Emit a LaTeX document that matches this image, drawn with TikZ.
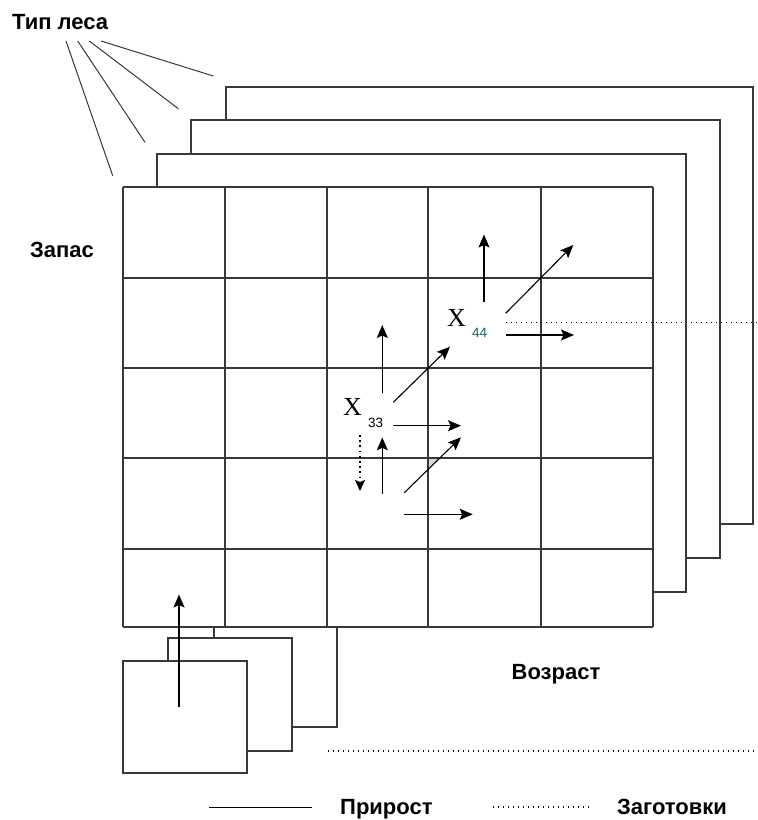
\documentclass[tikz,border=0pt]{standalone}
\usepackage{fontspec}
\setmainfont{Liberation Sans}
\newfontfamily\serifx{Liberation Serif}
\usetikzlibrary{arrows.meta}
\definecolor{framec}{gray}{0.22}
\definecolor{tealsub}{RGB}{30,95,95}
\definecolor{lav}{RGB}{214,214,240}
\begin{document}
\begin{tikzpicture}[x=1pt,y=-1pt,
  gridline/.style={draw=framec, line width=1.3pt},
  sheet/.style={draw=framec, line width=1.3pt, fill=white},
  pointer/.style={draw=framec, line width=1pt},
  flow/.style={draw=black, line width=1.1pt, -{Stealth[length=13pt,width=11pt,inset=2.5pt]}},
  harvest/.style={draw=black, line width=1.1pt, dash pattern=on 1.4pt off 3.6pt},
  harvestarrow/.style={draw=black, line width=1.6pt, dash pattern=on 1.8pt off 3.4pt, -{Stealth[length=11pt,width=10pt,inset=2pt]}},
  lbl/.style={font=\fontsize{22}{26}\selectfont\bfseries, anchor=base west, inner sep=0pt},
  xlbl/.style={font=\serifx\fontsize{26}{28}\selectfont, anchor=base west, inner sep=0pt},
  sublbl/.style={font=\fontsize{13.5}{15}\selectfont, anchor=base west, inner sep=0pt}]
\useasboundingbox (0,0) rectangle (758,820);

% back sheets (forest types)
\draw[sheet] (226,87) rectangle (753,524);
\draw[sheet] (191,120) rectangle (720,558);
\draw[sheet] (157,154) rectangle (686,592);

% small stacked boxes at lower left
\draw[sheet] (214,615) rectangle (337,727);
\draw[sheet] (168,638) rectangle (292,751);
\draw[sheet] (123,661) rectangle (247,773);

% main grid
\fill[white] (123,187) rectangle (653,627);
\fill[lav] (428,459) -- (438.6,459) -- (428,469.4) -- cycle;
\foreach \x in {123,225,327,428,541,653} \draw[gridline] (\x,187) -- (\x,627);
\foreach \y in {187,278,368,458,549,627} \draw[gridline] (123,\y) -- (653,\y);

% labels
\node[lbl] (tip) at (12,29) {Тип леса};
\node[lbl] (zapas) at (30,257.5) {Запас};
\node[lbl] (vozrast) at (511.5,679) {Возраст};
\node[lbl] (prirost) at (340,814) {Прирост};
\node[lbl] (zagot) at (617,814) {Заготовки};

% pointer lines from "Тип леса"
\coordinate (p1) at (66,41);   \coordinate (q1) at (112.7,175.7);
\coordinate (p2) at (77.7,41); \coordinate (q2) at (145,142.3);
\coordinate (p3) at (89.3,41); \coordinate (q3) at (178.3,108.7);
\coordinate (p4) at (101,41);  \coordinate (q4) at (213.3,76);
\draw[pointer] (p1) -- (q1);
\draw[pointer] (p2) -- (q2);
\draw[pointer] (p3) -- (q3);
\draw[pointer] (p4) -- (q4);

% state labels
\node[xlbl] (x44) at (447,326) {X};
\node[sublbl, text=tealsub] (s44) at (472,337) {44};
\node[xlbl] (x33) at (343,415) {X};
\node[sublbl] (s33) at (368,427) {33};

% harvest (dotted) lines
\coordinate (h44a) at (506,322.5); \coordinate (h44b) at (758,322.5);
\draw[harvest] (h44a) -- (h44b);
\coordinate (hba) at (328,751); \coordinate (hbb) at (758,751);
\draw[harvest] (hba) -- (hbb);

% flows from X44
\coordinate (a1s) at (484,301.7); \coordinate (a1e) at (484,234.5);
\coordinate (a2s) at (505.7,313.3); \coordinate (a2e) at (573.3,245);
\coordinate (a3s) at (505.7,335); \coordinate (a3e) at (574,335);
\draw[flow] (a1s) -- (a1e);
\draw[flow] (a2s) -- (a2e);
\draw[flow] (a3s) -- (a3e);
% flows from X33
\coordinate (b1s) at (382.3,392.7); \coordinate (b1e) at (382.3,325);
\coordinate (b2s) at (393.3,402.3); \coordinate (b2e) at (450,346.7);
\coordinate (b3s) at (393.3,425.7); \coordinate (b3e) at (461,425.7);
\draw[flow] (b1s) -- (b1e);
\draw[flow] (b2s) -- (b2e);
\draw[flow] (b3s) -- (b3e);
% flows from the cell below
\coordinate (c1s) at (382.3,494); \coordinate (c1e) at (382.3,437.3);
\coordinate (c2s) at (404.3,492.7); \coordinate (c2e) at (461,437.3);
\coordinate (c3s) at (404.3,514.3); \coordinate (c3e) at (472.7,514.3);
\draw[flow] (c1s) -- (c1e);
\draw[flow] (c2s) -- (c2e);
\draw[flow] (c3s) -- (c3e);
% dotted harvest arrow down from X33
\coordinate (d1s) at (360,435); \coordinate (d1e) at (360,491);
\draw[harvestarrow] (d1s) -- (d1e);
% inflow arrow from lower boxes
\coordinate (e1s) at (179,706.5); \coordinate (e1e) at (179,594.5);
\draw[flow] (e1s) -- (e1e);

% legend
\coordinate (ls1) at (209,807); \coordinate (ls2) at (312,807);
\draw[draw=black, line width=1pt] (ls1) -- (ls2);
\coordinate (ld1) at (493,807); \coordinate (ld2) at (589,807);
\draw[harvest] (ld1) -- (ld2);
\end{tikzpicture}
\end{document}
